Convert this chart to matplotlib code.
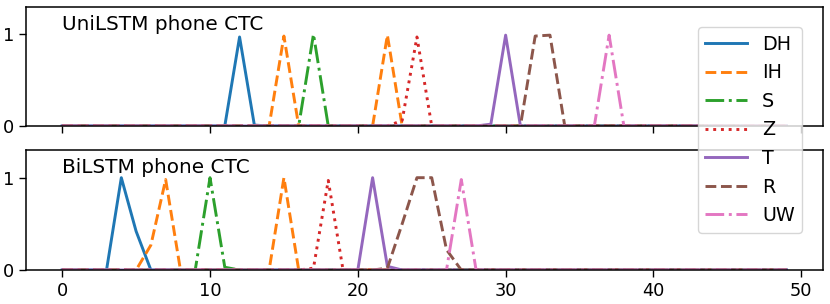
import numpy as np
import matplotlib
matplotlib.use("Agg")
import matplotlib.pyplot as plt

n_frames = 50
phones = ["DH", "IH", "S", "Z", "T", "R", "UW"]
styles = ["-", "--", "-.", ":", "-", "--", "-."]
colors = ["tab:blue", "tab:orange", "tab:green", "tab:red", "tab:purple", "tab:brown", "tab:pink"]

# UniLSTM phone CTC posteriors (frame index -> value), zero elsewhere
uni_frames = {
    "DH": [11, 12, 13],
    "IH": [14, 15, 16, 21, 22, 23],
    "S": [16, 17, 18],
    "Z": [23, 24, 25],
    "T": [28, 29, 30, 31],
    "R": [31, 32, 33, 34],
    "UW": [36, 37, 38],
}
uni_values = {
    "DH": [0.0, 0.97, 0.01],
    "IH": [0.0, 0.98, 0.0, 0.0, 0.99, 0.0],
    "S": [0.0, 1.0, 0.0],
    "Z": [0.06, 0.97, 0.0],
    "T": [0.0, 0.02, 0.99, 0.0],
    "R": [0.0, 0.98, 0.99, 0.0],
    "UW": [0.0, 0.99, 0.0],
}

# BiLSTM phone CTC posteriors
bi_frames = {
    "DH": [3, 4, 5, 6],
    "IH": [5, 6, 7, 8, 14, 15, 16],
    "S": [9, 10, 11, 12],
    "Z": [17, 18, 19],
    "T": [20, 21, 22, 23],
    "R": [22, 23, 24, 25, 26, 27],
    "UW": [26, 27, 28],
}
bi_values = {
    "DH": [0.0, 1.0, 0.42, 0.0],
    "IH": [0.0, 0.27, 0.98, 0.0, 0.0, 1.0, 0.0],
    "S": [0.0, 1.0, 0.03, 0.0],
    "Z": [0.02, 0.97, 0.0],
    "T": [0.0, 1.0, 0.04, 0.0],
    "R": [0.02, 0.5, 1.0, 1.0, 0.22, 0.0],
    "UW": [0.0, 0.98, 0.0],
}

titles = ["UniLSTM phone CTC", "BiLSTM phone CTC"]
yticks = [0, 1]
xticks = [0, 10, 20, 30, 40, 50]


def build(frames, values):
    arr = np.zeros(n_frames)
    arr[frames] = values
    return arr


fig = plt.figure(figsize=(8.3, 3.04), dpi=100)
ax1 = fig.add_axes([0.0313, 0.5855, 0.9599, 0.3925])
ax2 = fig.add_axes([0.0313, 0.1118, 0.9599, 0.3948], sharex=ax1)

x = np.arange(n_frames)
handles = []
for ax, fr, vals, title in [(ax1, uni_frames, uni_values, titles[0]),
                            (ax2, bi_frames, bi_values, titles[1])]:
    for ph, ls, c in zip(phones, styles, colors):
        h, = ax.plot(x, build(fr[ph], vals[ph]), ls, color=c, lw=2.1, label=ph)
        if ax is ax1:
            handles.append(h)
    ax.set_ylim(0, 1.3)
    ax.set_yticks(yticks)
    ax.text(0, 1.05, title, fontsize=14.4)
    ax.tick_params(labelsize=12.8, length=4.8, width=1.0)
    for s in ax.spines.values():
        s.set_linewidth(1.1)

ax2.set_xticks(xticks)
ax1.tick_params(labelbottom=False)

fig.legend(handles=handles, loc="upper left", bbox_to_anchor=(697.7 / 830, 1 - 27 / 304),
           borderaxespad=0, fontsize=13.8, handlelength=2.15, framealpha=0.8)

fig.savefig("out.png", dpi=100)
